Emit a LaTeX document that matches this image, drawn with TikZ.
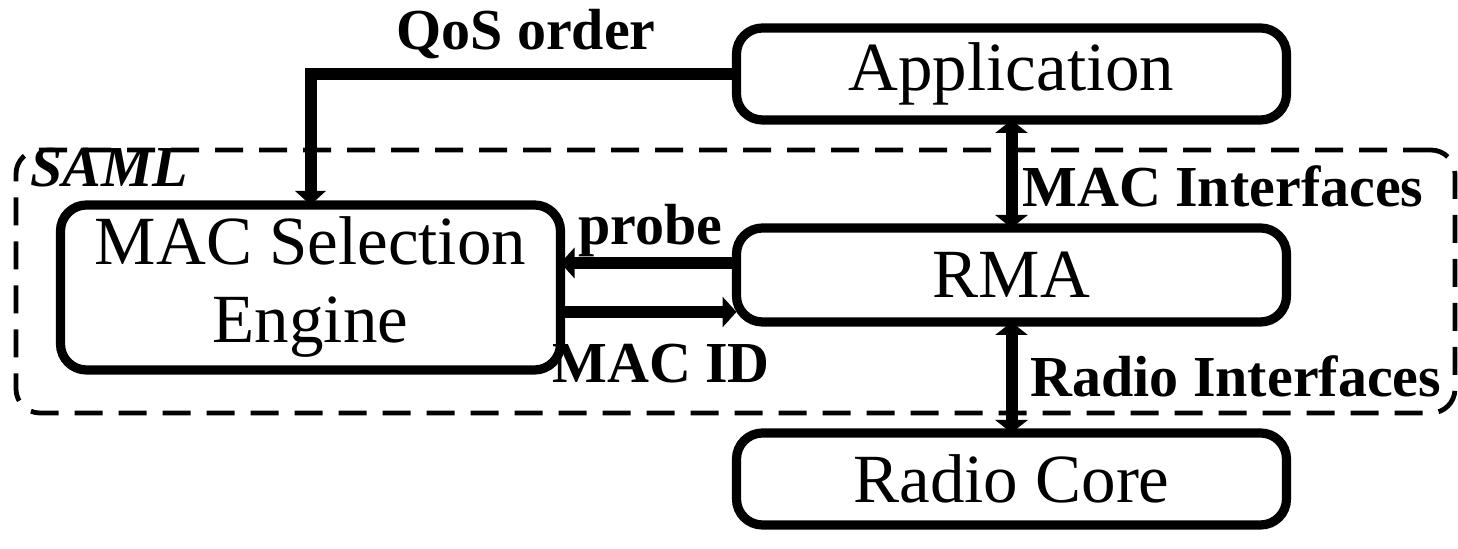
\documentclass[tikz,border=0pt]{standalone}
\usepackage{fontspec}
\setmainfont{Liberation Serif}
\usetikzlibrary{arrows.meta,positioning}
\tikzset{
  box/.style={rectangle, rounded corners=13pt, draw, line width=4.6pt,
              align=center, font=\fontsize{34.5}{39}\selectfont,
              minimum width=275pt, minimum height=46pt, inner sep=0pt, outer sep=0pt},
  grp/.style={rectangle, rounded corners=12pt, draw, line width=2.4pt,
              dash pattern=on 14pt off 8pt},
  fl/.style={-{Triangle[length=7pt,width=15pt]}, line width=6pt},
  flb/.style={{Triangle[length=6.5pt,width=16pt]}-{Triangle[length=6.5pt,width=16pt]}, line width=6pt},
  lbl/.style={font=\fontsize{29}{34}\selectfont\bfseries, inner sep=0pt}
}

\begin{document}
\begin{tikzpicture}[x=0.5pt,y=-0.5pt]
  \useasboundingbox (0,0) rectangle (1458,549);

  % SAML boundary
  \node[grp, minimum width=719.5pt, minimum height=131.5pt] (saml) at (735.5,281.5) {};
  \node[lbl, font=\fontsize{29}{34}\selectfont\bfseries\itshape, anchor=base west] (samllbl) at (30,187) {SAML};

  % layer stack
  \node[box] (app) at (1011.5,74) {Application};
  \node[box, below=54pt of app, minimum height=47pt] (rma) {RMA};
  \node[box, below=55.5pt of rma] (radio) {Radio Core};
  \node[box, left=88pt of rma, yshift=-6.25pt, minimum width=250pt, minimum height=82.5pt] (mse) {MAC Selection\\Engine};

  % connectors
  \draw[fl] (app.west) -| (mse.north);
  \draw[fl] ([yshift=6pt]rma.west) -- ([yshift=6pt]rma.west -| mse.east);
  \draw[fl] ([yshift=-18.5pt]rma.west -| mse.east) -- ([yshift=-18.5pt]rma.west);
  \draw[flb] (app.south) -- (rma.north);
  \draw[flb] (rma.south) -- (radio.north);

  % labels
  \node[lbl, anchor=base] (qos) at (526,50) {QoS order};
  \node[lbl, anchor=base west] (probelbl) at (578,245) {probe};
  \node[lbl, anchor=base west] (macid) at (552,383) {MAC ID};
  \node[lbl, anchor=base west] (macif) at (1022,207) {MAC Interfaces};
  \node[lbl, anchor=base west] (radioif) at (1030,397) {Radio Interfaces};
\end{tikzpicture}
\end{document}
